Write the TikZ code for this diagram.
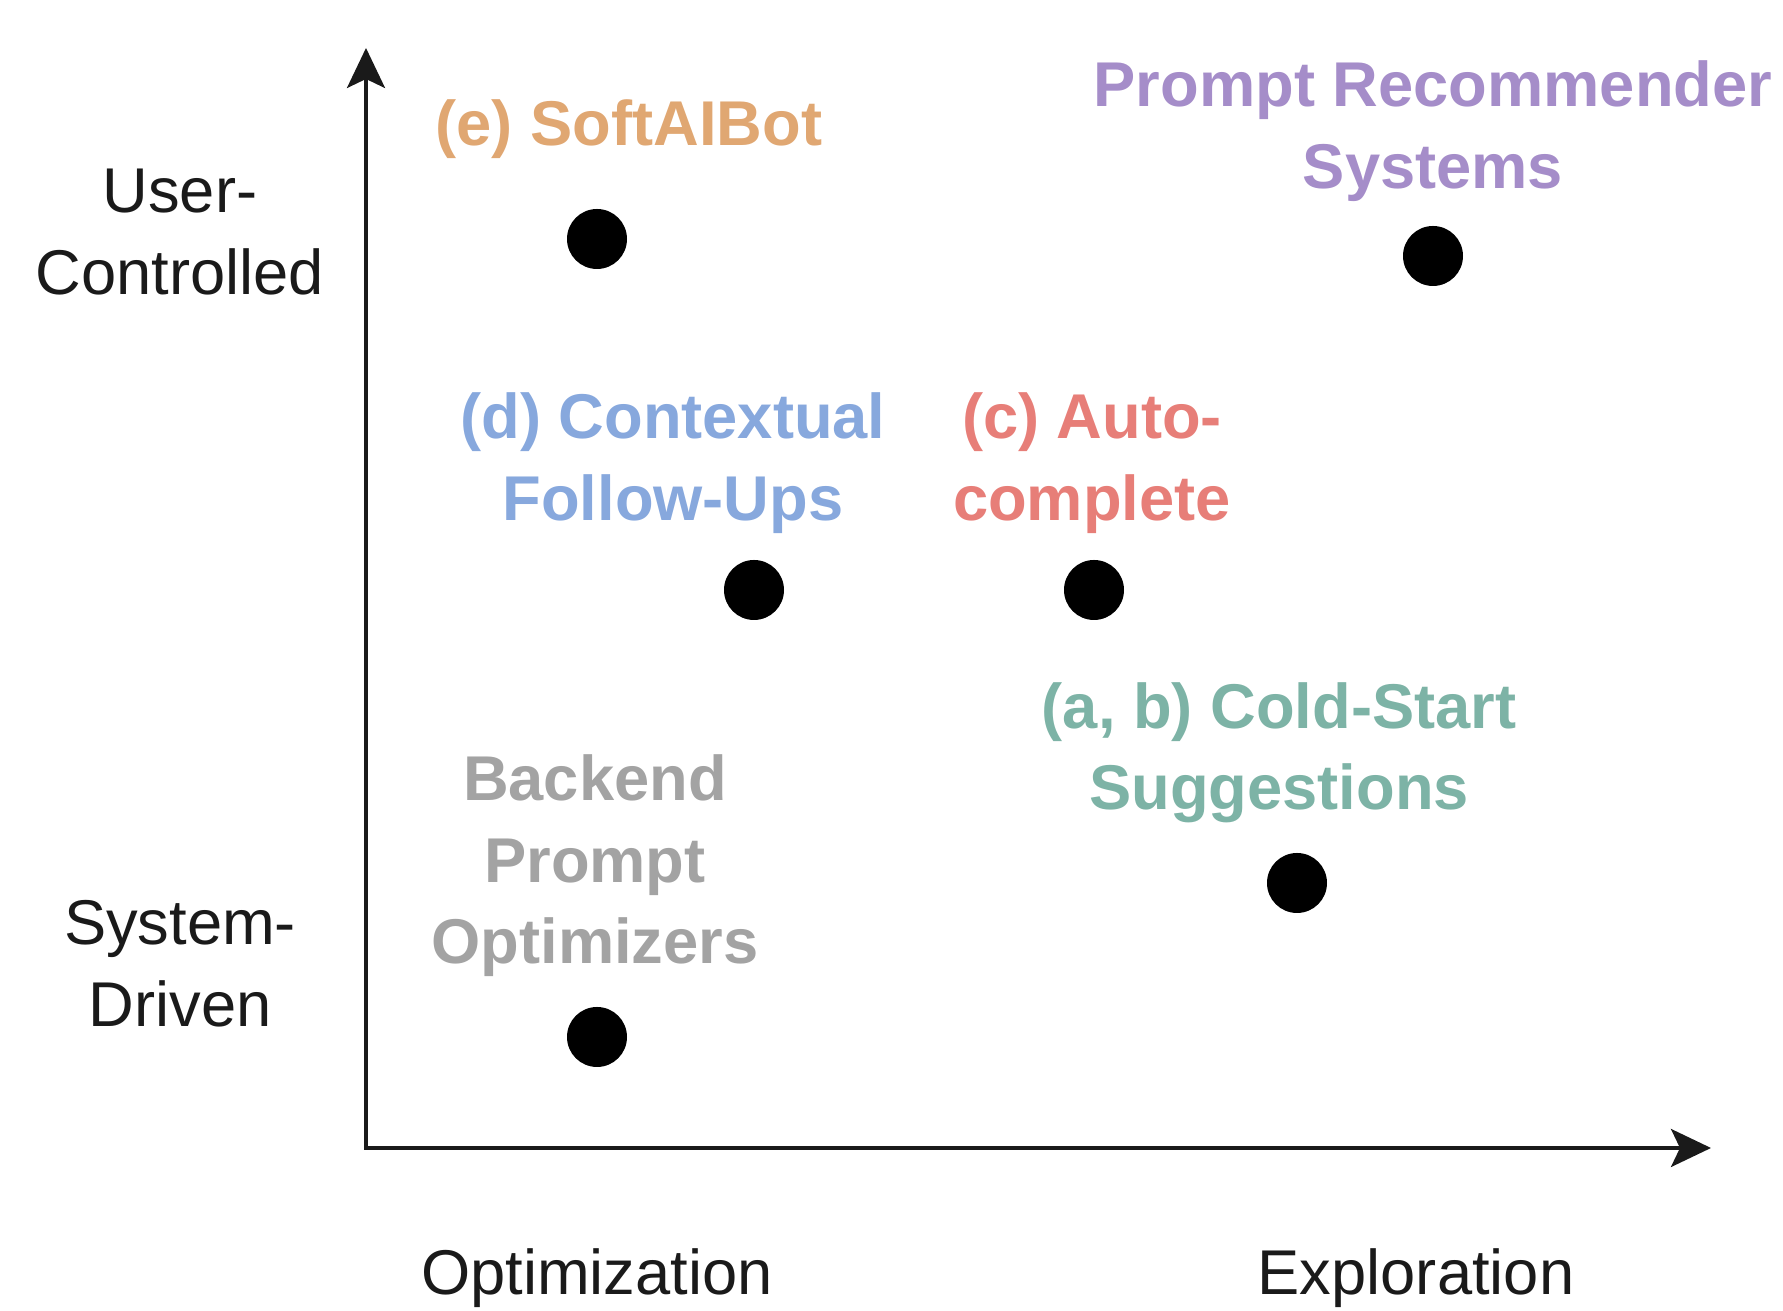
\documentclass[tikz,border=0pt]{standalone}
\usepackage{fontspec}
\setmainfont{Liberation Sans}
\usepackage{tikz}
\usetikzlibrary{arrows.meta}
\tikzstyle{axis} = [draw, line width=1pt, {Stealth[length=4mm,width=3.8mm,inset=0.9mm]}-{Stealth[length=4mm,width=3.8mm,inset=0.9mm]}]
\tikzstyle{dot} = [circle, fill=black, minimum size=6mm, inner sep=0pt]
\tikzstyle{lbl} = [align=center, font=\fontsize{18}{23.2}\selectfont, inner sep=0pt]
\tikzstyle{tag} = [lbl, font=\fontsize{18}{23.2}\selectfont\bfseries]
\usepackage{xcolor}
\definecolor{softorange}{HTML}{E0A772}
\definecolor{softpurple}{HTML}{A58DC9}
\definecolor{softblue}{HTML}{87A8DD}
\definecolor{softred}{HTML}{E77E78}
\definecolor{softteal}{HTML}{7DB3A6}
\definecolor{softgray}{HTML}{A3A3A3}
\definecolor{axisink}{HTML}{1A1A1A}

\begin{document}
\begin{tikzpicture}
		    \useasboundingbox (0,0) rectangle (17.83,13.11);
		    % axes
		    \coordinate (origin) at (3.66,1.63);
		    \coordinate (ytip) at (3.66,12.63);
		    \coordinate (xtip) at (17.11,1.63);
		    \path [axis, axisink] (ytip) -- (origin) -- (xtip);
		    % axis labels
		    \node [lbl, text=axisink] (user) at (1.80,10.79) {User-\\Controlled};
		    \node [lbl, text=axisink] (system) at (1.80,3.47) {System-\\Driven};
		    \node [lbl, text=axisink, anchor=base] (optim) at (5.97,0.16) {Optimization};
		    \node [lbl, text=axisink, anchor=base] (explor) at (14.16,0.16) {Exploration};
		    % points
		    \node [dot] (softbot) at (5.97,10.72) {};
		    \node [dot] (recsys) at (14.33,10.55) {};
		    \node [dot] (followup) at (7.54,7.21) {};
		    \node [dot] (autocomp) at (10.94,7.21) {};
		    \node [dot] (coldstart) at (12.97,4.28) {};
		    \node [dot] (backend) at (5.97,2.74) {};
		    % point labels
		    \node [tag, text=softorange] (softbotlbl) at (6.29,11.82) {(e) SoftAIBot};
		    \node [tag, text=softpurple] (recsyslbl) at (14.33,11.80) {Prompt Recommender\\Systems};
		    \node [tag, text=softblue] (followuplbl) at (6.73,8.48) {(d) Contextual\\Follow-Ups};
		    \node [tag, text=softred] (autocomplbl) at (10.92,8.48) {(c) Auto-\\complete};
		    \node [tag, text=softteal] (coldstartlbl) at (12.79,5.58) {(a, b) Cold-Start\\Suggestions};
		    \node [tag, text=softgray] (backendlbl) at (5.95,4.45) {Backend\\Prompt\\Optimizers};
		\end{tikzpicture}
\end{document}
